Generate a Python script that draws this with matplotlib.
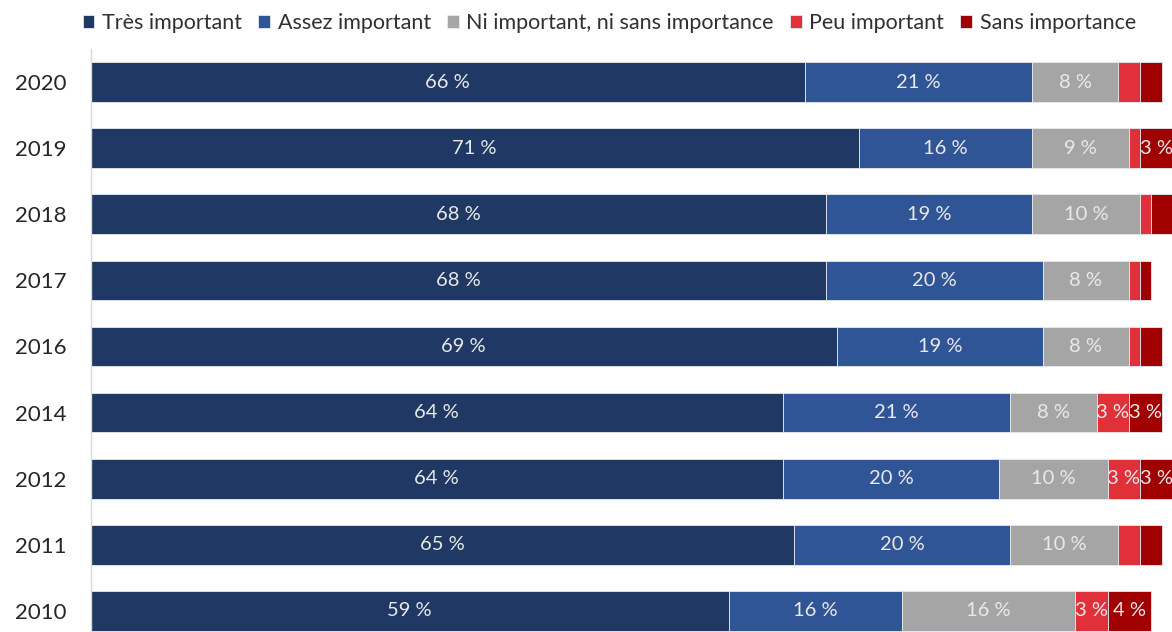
import matplotlib
matplotlib.use("Agg")
import matplotlib.pyplot as plt
import numpy as np

years = ["2020", "2019", "2018", "2017", "2016", "2014", "2012", "2011", "2010"]
series_names = ["Très important", "Assez important", "Ni important, ni sans importance",
                "Peu important", "Sans importance"]
tres_important = [66, 71, 68, 68, 69, 64, 64, 65, 59]
assez_important = [21, 16, 19, 20, 19, 21, 20, 20, 16]
ni_ni = [8, 9, 10, 8, 8, 8, 10, 10, 16]
peu_important = [2, 1, 1, 1, 1, 3, 3, 2, 3]
sans_importance = [2, 3, 2, 1, 2, 3, 3, 2, 4]
colors = ["#1F3864", "#2F5597", "#A5A5A5", "#E0313B", "#A00000"]

plt.rcParams['font.family'] = ['Lato', 'DejaVu Sans']

W, H = 1172, 632
fig = plt.figure(figsize=(W / 100, H / 100), dpi=100)
left_px, width_px = 90.5, 1082
top_px, height_px = 49, 595
ax = fig.add_axes([left_px / W, (H - top_px - height_px) / H, width_px / W, height_px / H])

data = [tres_important, assez_important, ni_ni, peu_important, sans_importance]
y = np.arange(len(years))
left = np.zeros(len(years))
for vals, name, col in zip(data, series_names, colors):
    vals = np.array(vals, dtype=float)
    ax.barh(y, vals, left=left, height=0.6, color=col, label=name,
            edgecolor="#E6E9F0", linewidth=0.6)
    for yi, v, l in zip(y, vals, left):
        if v >= 3:
            ax.text(l + v / 2, yi, f"{int(v)} %", ha="center", va="center",
                    color="#E9E9E9", fontsize=14.5)
    left += vals

ax.set_xlim(0, 100)
ax.set_ylim(8.5, -0.5)
ax.set_yticks(y)
ax.set_yticklabels(years, fontsize=16, color="#262626")
ax.tick_params(axis="y", length=0, pad=17.5)
ax.set_xticks([])
for s in ["top", "right", "bottom"]:
    ax.spines[s].set_visible(False)
ax.spines["left"].set_color("#D9D9D9")
ax.spines["left"].set_linewidth(1)

fig.legend(loc="center left", bbox_to_anchor=(74 / W, 1 - 23 / H), ncol=5,
           frameon=False, fontsize=15.5, handlelength=0.55, handleheight=0.55,
           handletextpad=0.35, columnspacing=0.75, borderaxespad=0,
           labelcolor="#303030")

fig.savefig("out.png", dpi=100)
